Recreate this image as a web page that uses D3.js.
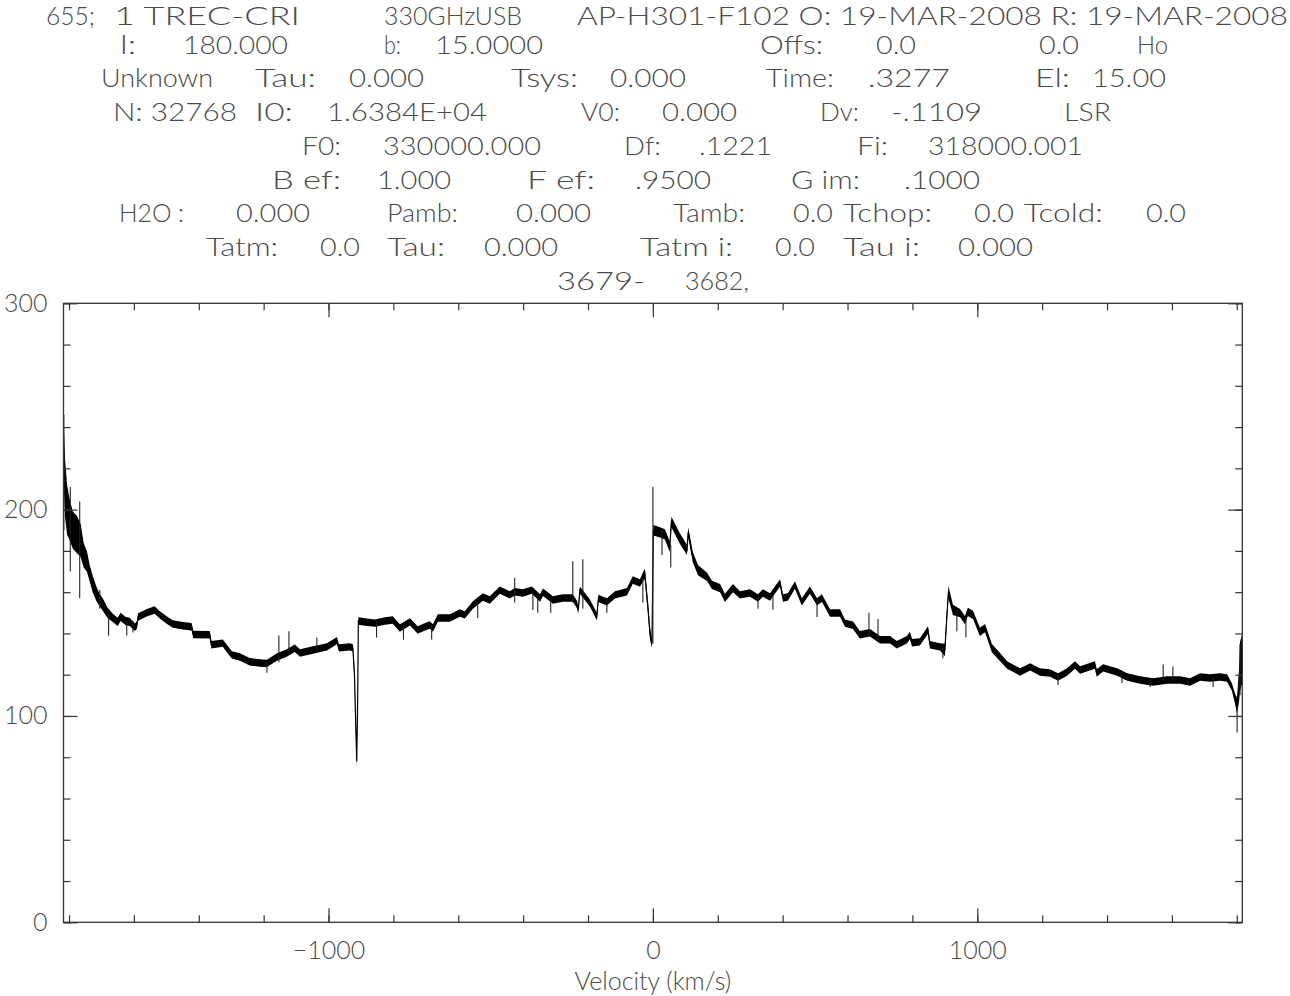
<!DOCTYPE html>
<html>
<head>
<meta charset="utf-8">
<script src="https://cdn.jsdelivr.net/npm/d3@7"></script>
<style>
  html, body { margin: 0; padding: 0; background: #fff; }
  svg { display: block; }
  text { font-family: "Lato", "DejaVu Sans", sans-serif; font-weight: 300; fill: #4a4a4a; }
</style>
</head>
<body>
<svg id="chart" width="1290" height="996"></svg>
<script>
// ---------------- DATA ----------------
// Spectrum envelope: velocity (km/s), central temperature (K), half-spread of noise (K)
const velocity = [-1817,-1812,-1806,-1798,-1788,-1776,-1764,-1755,-1745,-1736,-1727,-1715,-1705,-1696,-1681,-1665,-1650,-1641,-1625,-1613,-1597,-1591,-1587,-1560,-1536,-1520,-1499,-1480,-1449,-1422,-1417,-1366,-1361,-1326,-1310,-1298,-1273,-1243,-1212,-1190,-1159,-1129,-1104,-1088,-1048,-1005,-974,-968,-934,-925,-920,-916,-913,-910,-908,-888,-857,-826,-802,-780,-749,-725,-706,-688,-678,-663,-626,-595,-580,-555,-524,-503,-472,-441,-426,-401,-373,-348,-339,-308,-278,-247,-234,-230,-225,-194,-173,-168,-142,-117,-80,-62,-40,-25,-15,-9,-3,1.5,22,37,52,57,83,105,109,123,139,167,182,207,222,247,268,299,324,339,361,392,401,416,438,459,484,506,521,546,577,592,617,638,669,700,731,752,783,792,799,823,848,854,885,900,907,911,925,947,962,971,987,1008,1024,1045,1064,1092,1132,1163,1193,1224,1249,1277,1301,1317,1363,1368,1388,1431,1462,1502,1542,1585,1625,1656,1687,1718,1748,1770,1785,1795,1801,1807,1810,1817];
const tMid = [230,210,200,195,190,188,185,178,175,169,164,159,156,154,150,147.5,145.6,148,146,145.6,143,144,148,150,151.4,149,146.5,144.6,143.7,143.2,139.5,139.4,134.5,135.3,132,129.6,128.6,126.3,125.7,125.5,128.6,130.5,132.8,130.5,132,133.5,136.5,133,133.5,133,120,95,78,110,146,145.5,145,146,146.5,142.6,145.6,141.7,143,144.1,142.6,147.5,147.5,149.9,149,153.8,157.7,156.2,161,158.7,160.2,159.6,161,157.2,160,156.2,157.2,157.2,154,151.4,161,154.7,148.2,157,155.3,158.7,160.2,165.9,164.4,169,152,140,135,190,189,188,182,194,186,180.5,189,177,170.7,167.4,163.5,162,157.2,162,158.7,159.6,157.2,159.6,157.7,164.5,157.2,157.7,163.5,155.3,161,155.3,157.2,149.9,149.9,145,144,139.4,140.3,136.9,136.9,134.5,136.9,139,135.5,135.9,141.7,134.5,133.5,132,150,160,151.4,149.9,146.5,150.4,149,140.8,142.6,132.9,129.6,124.7,121.3,123.8,121.3,120.8,118.9,121.3,124.7,122.3,124.7,120.8,123.3,121.3,118.9,117.4,116.5,117.4,117.4,116.5,118.9,118.4,118.9,118.4,114,108,105,115,124,128];
const tSpread = [16,14,12,10,9,9,8,6,5,4,4,3.5,3,3,2.5,2,2,2,2,2,1.8,1.8,1.8,1.8,1.8,1.8,1.8,1.8,1.8,1.8,1.8,1.8,1.8,1.8,1.8,1.8,1.8,1.8,1.8,1.8,1.8,1.8,1.8,1.8,1.8,1.8,1.8,1.8,1.8,1.8,3,3,3,3,1.8,1.8,1.8,1.8,1.8,1.8,1.8,1.8,1.8,1.8,1.8,1.8,1.8,1.8,1.8,1.8,1.8,1.8,1.8,1.8,1.8,1.8,1.8,1.8,1.8,1.8,1.8,1.8,1.8,1.8,1.8,1.8,1.8,1.8,1.8,1.8,1.8,1.8,1.8,2.5,3,3,2,2.5,2.5,2.5,2.5,2.5,2.5,2.5,2.5,2.5,2.5,2,2,2,2,2,1.8,1.8,1.8,1.8,1.8,1.8,1.8,1.8,1.8,1.8,1.8,1.8,1.8,1.8,1.8,1.8,1.8,1.8,1.8,1.8,1.8,1.8,1.8,1.8,1.8,1.8,1.8,1.8,1.8,3,3,3,2.5,2,2,2,2,2,2,2,2,1.8,1.8,1.8,1.8,1.8,1.8,1.8,1.8,1.8,1.8,1.8,1.8,1.8,1.8,1.8,1.8,1.8,1.8,1.8,1.8,1.8,1.8,1.8,1.8,2.5,4,8,12,12,10,8];
// Isolated single-channel spikes: velocity, low end, high end (K)
const spikeVel  = [-1816,-1796,-1767,-1705,-1678,-1622,-1603,-1190,-1153,-1122,-1036,-852,-769,-682,-540,-426,-370,-355,-315,-247,-216,-142,-31,0,28,55,324,370,506,666,694,894,937,965,1249,1446,1533,1573,1603,1650,1727,1801,1810];
const spikeLow  = [190,170,157,152,139,139,140.5,121,126,130,131,138,137,137,147.5,155,151.4,150,150,155,152,150,155,135,178,172,152,151.5,148,139,136,128,141,138,115,116,114,117,117,115,114,92,110];
const spikeHigh = [246,211,204,161,150,146,146,126,139,141,138,146,144,144,155,167,160,158,157,175,176,156,167,211,190,183,158,158,156,150,147,133,151,148,120,122,118,125,124,118,119,105,135];

// Axis ticks
const xMajorTicks = [-1000, 0, 1000];
const xMinorTicks = [-1800,-1600,-1400,-1200,-1000,-800,-600,-400,-200,0,200,400,600,800,1000,1200,1400,1600,1800];
const yMajorTicks = [0, 100, 200, 300];
const yMinorTicks = [0,20,40,60,80,100,120,140,160,180,200,220,240,260,280,300];
const xTitle = "Velocity (km/s)";

// Header text (CLASS observation header), one array of tokens per line
const headerLines = [
  ["655;", "1 TREC-CRI", "330GHzUSB", "AP-H301-F102 O: 19-MAR-2008 R: 19-MAR-2008"],
  ["l:", "180.000", "b:", "15.0000", "Offs:", "0.0", "0.0", "Ho"],
  ["Unknown", "Tau:", "0.000", "Tsys:", "0.000", "Time:", ".3277", "El:", "15.00"],
  ["N: 32768", "I0:", "1.6384E+04", "V0:", "0.000", "Dv:", "-.1109", "LSR"],
  ["F0:", "330000.000", "Df:", ".1221", "Fi:", "318000.001"],
  ["B ef:", "1.000", "F ef:", ".9500", "G im:", ".1000"],
  ["H2O :", "0.000", "Pamb:", "0.000", "Tamb:", "0.0", "Tchop:", "0.0", "Tcold:", "0.0"],
  ["Tatm:", "0.0", "Tau:", "0.000", "Tatm i:", "0.0", "Tau i:", "0.000"],
  ["3679-", "3682,"]
];

// ---------------- LAYOUT ----------------
const headerSpan = [
  [[46,95],[114,300],[384,522],[577,1288]],
  [[120,136],[183,288],[384,401],[435,543],[760,823],[876,916],[1039,1079],[1137,1168]],
  [[101,213],[255,316],[349,424],[511,578],[610,686],[766,834],[868,950],[1035,1070],[1092,1166]],
  [[113,237],[255,293],[327,487],[581,620],[662,737],[820,859],[891,982],[1064,1111]],
  [[302,341],[383,541],[624,661],[699,772],[857,888],[928,1083]],
  [[272,341],[377,451],[527,595],[635,711],[791,860],[904,980]],
  [[119,184],[236,310],[387,458],[516,591],[673,745],[793,833],[843,932],[974,1014],[1024,1103],[1146,1186]],
  [[206,278],[320,360],[387,445],[484,558],[640,733],[775,815],[843,920],[958,1033]],
  [[557,645],[685,749]]
];
const headerCenters = [16, 45, 78, 112, 146, 180, 213, 247, 281];
const FS = 25;

const plot = {left: 63.5, right: 1242.3, top: 303.3, bottom: 922.3};
const svg = d3.select("#chart");

// header
headerLines.forEach((tokens, li) => {
  tokens.forEach((t, ti) => {
    const [x0, x1] = headerSpan[li][ti];
    svg.append("text")
      .attr("x", x0)
      .attr("y", headerCenters[li] + 9)
      .attr("font-size", FS)
      .attr("textLength", x1 - x0)
      .attr("lengthAdjust", "spacingAndGlyphs")
      .text(t);
  });
});

const x = d3.scaleLinear().domain([-1817, 1817]).range([plot.left, plot.right]);
const y = d3.scaleLinear().domain([0, 300]).range([plot.bottom, plot.top]);

const data = velocity.map((v, i) => ({v, t: tMid[i], s: tSpread[i]}));

// spectrum envelope
const area = d3.area()
  .x(d => x(d.v))
  .y0(d => y(d.t - d.s))
  .y1(d => y(d.t + d.s));
svg.append("path").datum(data)
  .attr("d", area)
  .attr("fill", "#000");
svg.append("path").datum(data)
  .attr("d", d3.line().x(d => x(d.v)).y(d => y(d.t)))
  .attr("fill", "none").attr("stroke", "#000").attr("stroke-width", 1.2);

// spikes
svg.append("g").selectAll("line")
  .data(spikeVel.map((v, i) => ({v, lo: spikeLow[i], hi: spikeHigh[i]})))
  .join("line")
  .attr("x1", d => x(d.v)).attr("x2", d => x(d.v))
  .attr("y1", d => y(d.lo)).attr("y2", d => y(d.hi))
  .attr("stroke", "#222").attr("stroke-width", 1.1);

// axes
function styleAxis(g) {
  g.select(".domain").remove();
  g.selectAll(".tick line").attr("stroke", "#333").attr("stroke-width", 1.2);
  g.attr("font-family", null).attr("font-size", null);
  g.selectAll("text").attr("font-size", FS).attr("fill", "#4a4a4a");
}
const fmt = d => (d < 0 ? "\u2212" : "") + Math.abs(d);

// bottom
svg.append("g").attr("transform", `translate(0,${plot.bottom})`)
  .call(d3.axisBottom(x).tickValues(xMinorTicks).tickSize(-7).tickFormat(""))
  .call(styleAxis);
svg.append("g").attr("transform", `translate(0,${plot.bottom})`)
  .call(d3.axisBottom(x).tickValues(xMajorTicks).tickSize(-14).tickPadding(19).tickFormat(fmt))
  .call(styleAxis);
// top
svg.append("g").attr("transform", `translate(0,${plot.top})`)
  .call(d3.axisTop(x).tickValues(xMinorTicks).tickSize(-7).tickFormat(""))
  .call(styleAxis);
svg.append("g").attr("transform", `translate(0,${plot.top})`)
  .call(d3.axisTop(x).tickValues(xMajorTicks).tickSize(-14).tickFormat(""))
  .call(styleAxis);
// left
svg.append("g").attr("transform", `translate(${plot.left},0)`)
  .call(d3.axisLeft(y).tickValues(yMinorTicks).tickSize(-7).tickFormat(""))
  .call(styleAxis);
svg.append("g").attr("transform", `translate(${plot.left},0)`)
  .call(d3.axisLeft(y).tickValues(yMajorTicks).tickSize(-14).tickPadding(16).tickFormat(d3.format("d")))
  .call(styleAxis);
// right
svg.append("g").attr("transform", `translate(${plot.right},0)`)
  .call(d3.axisRight(y).tickValues(yMinorTicks).tickSize(-7).tickFormat(""))
  .call(styleAxis);
svg.append("g").attr("transform", `translate(${plot.right},0)`)
  .call(d3.axisRight(y).tickValues(yMajorTicks).tickSize(-14).tickFormat(""))
  .call(styleAxis);

// frame
svg.append("rect")
  .attr("x", plot.left).attr("y", plot.top)
  .attr("width", plot.right - plot.left).attr("height", plot.bottom - plot.top)
  .attr("fill", "none").attr("stroke", "#333").attr("stroke-width", 1.3);

// x title
svg.append("text")
  .attr("x", x(0)).attr("y", 990)
  .attr("text-anchor", "middle")
  .attr("font-size", FS)
  .text(xTitle);
</script>
</body>
</html>
